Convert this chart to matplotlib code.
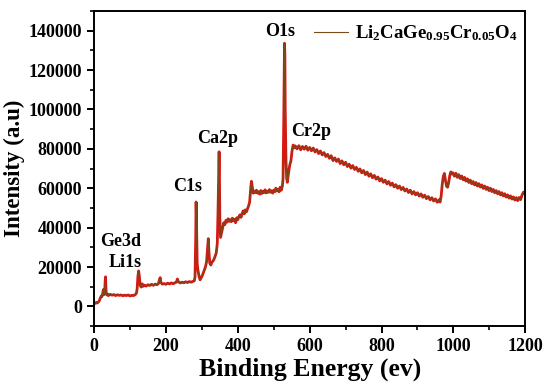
import matplotlib
matplotlib.use('Agg')
import matplotlib.pyplot as plt
from matplotlib.ticker import MultipleLocator

plt.rcParams['font.family'] = 'Liberation Serif'
plt.rcParams['font.weight'] = 'bold'
plt.rcParams['mathtext.fontset'] = 'custom'
plt.rcParams['mathtext.rm'] = 'Liberation Serif:bold'
plt.rcParams['mathtext.it'] = 'Liberation Serif:bold'
plt.rcParams['mathtext.bf'] = 'Liberation Serif:bold'

# XPS survey spectrum
energy = [0, 3, 6, 9, 12, 15, 18, 20, 22, 24, 26, 27, 28, 30, 31, 32, 33, 34, 36, 38, 40,
          45, 50, 55, 60, 65, 70, 75, 80, 85, 90, 95, 100, 105, 110, 115, 118,
          120, 122, 124, 126, 128, 131, 134, 137,
          140, 145, 150, 155, 160, 165, 170, 175, 179, 182, 184, 186, 190, 195, 200, 205,
          210, 215, 220, 225, 229, 232, 235, 240, 245, 250, 255, 260, 265, 270, 275, 279,
          281, 283, 284, 285, 287, 289, 292, 295, 298, 301, 304, 307, 310, 313, 316, 318,
          320, 322, 325, 328, 331, 334, 337, 340, 343, 345, 347, 348, 349, 350, 352, 355,
          358, 361, 364, 367, 370, 373, 376, 379, 382, 385, 388, 391, 394, 397, 400, 403,
          406, 409, 412, 415, 418, 421, 424, 427, 430, 433, 436, 438, 440, 443, 446, 449,
          452, 455, 458, 461, 464, 467, 470, 473, 476, 479, 482, 485, 488, 491, 494, 497,
          500, 503, 506, 509, 512, 515, 518, 521, 524, 526, 528, 530, 531, 532, 534, 536,
          538, 540, 543, 545, 548, 551, 554, 557, 560,
          565, 570, 575, 580, 585, 590, 595, 600, 605, 610, 615, 620, 625, 630, 635, 640,
          645, 650, 655, 660, 665, 670, 675, 680, 685, 690, 695, 700, 705, 710, 715, 720,
          725, 730, 735, 740, 745, 750, 755, 760, 765, 770, 775, 780, 785, 790, 795, 800,
          805, 810, 815, 820, 825, 830, 835, 840, 845, 850, 855, 860, 865, 870, 875, 880,
          885, 890, 895, 900, 905, 910, 915, 920, 925, 930, 935, 940, 945, 950, 955, 960,
          963, 966, 969, 972, 975, 978, 981, 984, 987, 990, 993, 996, 999,
          1003, 1007, 1011, 1015, 1019, 1023, 1027, 1031, 1035, 1039, 1043, 1047, 1051,
          1055, 1059, 1063, 1067, 1071, 1075, 1079, 1083, 1087, 1091, 1095, 1099, 1103,
          1107, 1111, 1115, 1119, 1123, 1127, 1131, 1135, 1139, 1143, 1147, 1151, 1155,
          1159, 1163, 1167, 1171, 1175, 1179, 1183, 1187, 1191, 1195, 1198]
intensity = [1800, 1500, 2000, 1700, 2200, 3000, 4500, 5200, 5000, 6500, 8500, 7500, 6000, 9000, 13000, 15000, 9500, 6500, 5800, 6200, 5500,
             6100, 5700, 6000, 5500, 5900, 5600, 5800, 5400, 5700, 5500, 5800, 5300, 5600, 5500, 6000, 6800,
             9000, 15000, 18000, 15500, 11000, 9800, 11500, 10200,
             10800, 10300, 11000, 10600, 11200, 10700, 11300, 11000, 11500, 13500, 14600, 12200, 11300, 11600, 11200, 11800,
             11400, 11900, 11500, 12000, 12300, 13900, 12400, 11900, 12300, 12000, 12500, 12100, 12600, 12300, 12700, 13000,
             15000, 35000, 53000, 45000, 22000, 18500, 15500, 13500, 14500, 15500, 17000, 18500, 20000, 22500, 30000, 34400,
             27000, 22000, 21000, 22500, 23000, 24000, 25500, 27000, 32000, 48000, 70000, 78500, 65000, 45000, 35000, 37500,
             40000, 42500, 41500, 43700, 42800, 44500, 43200, 44000, 43000, 44800, 43500, 44200, 42500, 45000, 44000, 45500,
             46500, 45200, 47000, 48500, 47000, 49000, 48000, 49500, 51000, 53000, 60000, 63500, 61000, 57500, 58500, 57800,
             59000, 57500, 58200, 57000, 58800, 57300, 58500, 57800, 59200, 57600, 58500, 57900, 59300, 58000, 58700, 57500,
             59000, 58200, 60000, 58600, 59500, 58200, 60500, 59000, 61000, 65000, 95000, 133600, 128000, 100000, 75000, 65000,
             63000, 66000, 70000, 72000, 74000, 79000, 81900, 80500, 81500,
             80000, 81600, 79500, 81200, 79800, 81300, 79300, 80700, 79000, 80400, 78400, 79600, 77600, 78900, 76900, 78100,
             76100, 77200, 75200, 76500, 74000, 75400, 73600, 74800, 72500, 73900, 71900, 73200, 71000, 72200, 70200, 71500,
             69500, 70600, 68600, 69800, 67800, 69000, 66900, 68200, 66100, 67300, 65300, 66500, 64600, 65700, 63700, 64900,
             63000, 64100, 62200, 63400, 61500, 62600, 60700, 61800, 60000, 61100, 59300, 60400, 58600, 59600, 57800, 59000,
             57100, 58300, 56600, 57700, 56000, 57100, 55400, 56500, 54700, 55800, 54100, 55200, 53500, 54600, 52900, 54100,
             53000, 56000, 62000, 66000, 67500, 64000, 61000, 60500, 63000, 66500, 68300, 67200, 67800,
             66100, 67600, 65500, 66900, 64900, 66200, 64300, 65500, 63600, 64800, 62900, 64100, 62300,
             63400, 61700, 62900, 61100, 62300, 60600, 61700, 59900, 61100, 59400, 60500, 58800, 60000,
             58300, 59400, 57700, 58800, 57200, 58300, 56600, 57700, 56100, 57200, 55500, 56600, 55000,
             56100, 54500, 55600, 54000, 55200, 53700, 55300, 54200, 56500, 58000, 57200]

peak_names = ['O1s', 'Cr2p', 'Ca2p', 'C1s', 'Ge3d', 'Li1s']
peak_x = [517, 603, 343, 260, 75, 88]
peak_y = [139500, 88700, 85300, 60700, 32700, 22500]

fig = plt.figure(figsize=(5.5, 3.91), dpi=100)
ax = fig.add_axes([0.171, 0.166, 0.784, 0.806])

ax.plot(energy, intensity, color='#e01010', linewidth=2.0)
ax.plot(energy, intensity, color='#7a4a1a', linewidth=0.8,
        label=r'$\mathrm{Li_2CaGe_{0.95}Cr_{0.05}O_4}$')

for name, px, py in zip(peak_names, peak_x, peak_y):
    ax.text(px, py, name, ha='center', va='center', fontsize=13, fontweight='bold')

ax.set_xlim(0, 1200)
ax.set_ylim(-10000, 150000)
ax.xaxis.set_major_locator(MultipleLocator(200))
ax.xaxis.set_minor_locator(MultipleLocator(100))
ax.yaxis.set_major_locator(MultipleLocator(20000))
ax.yaxis.set_minor_locator(MultipleLocator(10000))
ax.set_yticks(range(0, 140001, 20000))
ax.tick_params(which='major', direction='out', length=5, width=1.4, labelsize=13)
ax.tick_params(which='minor', direction='out', length=3, width=1.2)
for sp in ax.spines.values():
    sp.set_linewidth(1.4)

ax.set_xlabel('Binding Energy (ev)', fontsize=18.5, fontweight='bold', labelpad=2)
ax.set_ylabel('Intensity (a.u)', fontsize=16.5, fontweight='bold', labelpad=3)

ax.legend(loc='upper right', bbox_to_anchor=(1.0, 0.985), frameon=False,
          fontsize=13.5, handlelength=1.8, handletextpad=0.4, borderaxespad=0.0)

fig.savefig('out.png', dpi=100)
